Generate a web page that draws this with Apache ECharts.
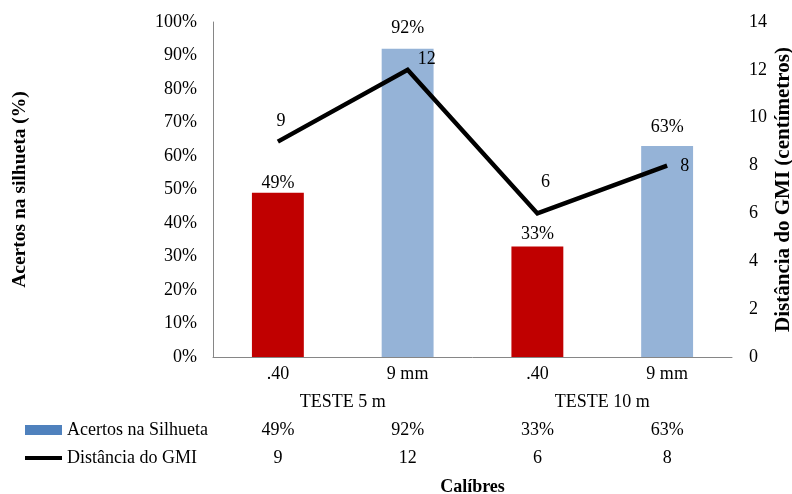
<!DOCTYPE html>
<html>
<head>
<meta charset="utf-8">
<script src="https://cdn.jsdelivr.net/npm/echarts@6/dist/echarts.min.js"></script>
<style>
  html, body { margin: 0; padding: 0; background: #fff; }
  #chart { width: 792px; height: 494px; }
</style>
</head>
<body>
<div id="chart"></div>
<script>
// Calibres per test, grouped by shooting distance
const categories = ['.40', '9 mm', '.40', '9 mm'];
const groups = ['TESTE 5 m', 'TESTE 10 m'];
// Hits on the silhouette (%)
const acertos = [49, 92, 33, 63];
// Distance to the GMI (cm)
const distancia = [9, 12, 6, 8];
const leftTicks = [0, 100, 10];
const rightTicks = [0, 14, 2];

const FONT = '"Liberation Serif", "Times New Roman", serif';
const RED = '#C00000';
const BLUE = '#95B3D7';
const LEGEND_BLUE = '#4F81BD';
const AXIS_GREY = '#868686';

const base = { fontFamily: FONT, fontSize: 18, color: '#000' };
const bold = Object.assign({}, base, { fontWeight: 'bold' });
const hidden = { show: false };

// Label placement for the bar values and the line values
const barLabelDist = [1, 12, 3, 10];
const lineLabel = [
  { position: 'top', distance: 0, offset: [3, -11] },
  { position: 'right', distance: 10, offset: [0, -11] },
  { position: 'top', distance: 0, offset: [8, -22] },
  { position: 'right', distance: 13, offset: [0, 1] }
];

const chart = echarts.init(document.getElementById('chart'), null, { renderer: 'canvas' });

// One hidden-line category axis per table row under the plot
function rowAxis(values, margin) {
  return {
    type: 'category',
    position: 'bottom',
    data: values,
    axisLine: hidden,
    axisTick: hidden,
    axisLabel: Object.assign({}, base, { margin: margin })
  };
}

chart.setOption({
  animation: false,
  backgroundColor: '#fff',
  textStyle: { fontFamily: FONT },
  grid: {
    left: 213, right: 60, top: 22, bottom: 137,
    containLabel: false,
    outerBoundsMode: 'none'
  },
  legend: [
    {
      left: 20,
      top: 416,
      itemWidth: 37,
      itemHeight: 10,
      textStyle: base,
      data: [{ name: 'Acertos na Silhueta', icon: 'rect', itemStyle: { color: LEGEND_BLUE } }]
    },
    {
      left: 20,
      top: 444,
      itemWidth: 37,
      itemHeight: 4,
      textStyle: base,
      data: [{ name: 'Distância do GMI', icon: 'rect', itemStyle: { color: '#000' } }]
    }
  ],
  xAxis: [
    {
      type: 'category',
      data: categories,
      axisLine: { lineStyle: { color: AXIS_GREY, width: 1 } },
      axisTick: hidden,
      axisLabel: Object.assign({}, base, { margin: 8 }),
      name: 'Calíbres',
      nameLocation: 'middle',
      nameGap: 121,
      nameMoveOverlap: false,
      nameTextStyle: bold
    },
    rowAxis(groups, 36),
    rowAxis(acertos.map(v => v + '%'), 64),
    rowAxis(distancia.map(v => String(v)), 92)
  ],
  yAxis: [
    {
      type: 'value',
      min: leftTicks[0], max: leftTicks[1], interval: leftTicks[2],
      axisLine: { show: true, lineStyle: { color: AXIS_GREY, width: 1 } },
      axisTick: hidden,
      splitLine: hidden,
      axisLabel: Object.assign({}, base, { margin: 16, formatter: '{value}%' }),
      name: 'Acertos na silhueta (%)',
      nameLocation: 'middle',
      nameGap: 183,
      nameRotate: 90,
      nameMoveOverlap: false,
      nameTextStyle: Object.assign({}, bold, { fontSize: 19.5 })
    },
    {
      type: 'value',
      position: 'right',
      min: rightTicks[0], max: rightTicks[1], interval: rightTicks[2],
      axisLine: hidden,
      axisTick: hidden,
      splitLine: hidden,
      axisLabel: Object.assign({}, base, { margin: 17 }),
      name: 'Distância do GMI (centímetros)',
      nameLocation: 'middle',
      nameGap: 41,
      nameRotate: 90,
      nameMoveOverlap: false,
      nameTextStyle: Object.assign({}, bold, { fontSize: 21 })
    }
  ],
  series: [
    {
      name: 'Acertos na Silhueta',
      type: 'bar',
      xAxisIndex: 0,
      yAxisIndex: 0,
      barWidth: '40%',
      itemStyle: { color: LEGEND_BLUE },
      data: acertos.map((v, i) => ({
        value: v,
        itemStyle: { color: categories[i] === '.40' ? RED : BLUE },
        label: { distance: barLabelDist[i] }
      })),
      label: Object.assign({}, base, { show: true, position: 'top', formatter: '{c}%' }),
      z: 2
    },
    {
      name: 'Distância do GMI',
      type: 'line',
      xAxisIndex: 0,
      yAxisIndex: 1,
      symbol: 'none',
      lineStyle: { color: '#000', width: 4.5, join: 'miter' },
      itemStyle: { color: '#000' },
      data: distancia,
      z: 3
    },
    {
      // value labels of the distance line
      name: 'Distância do GMI',
      type: 'scatter',
      xAxisIndex: 0,
      yAxisIndex: 1,
      symbolSize: 0,
      itemStyle: { color: '#000', opacity: 1 },
      data: distancia.map((v, i) => ({ value: v, label: lineLabel[i] })),
      label: Object.assign({}, base, { show: true, opacity: 1 }),
      emphasis: { disabled: true },
      silent: true,
      z: 4
    }
  ]
});
</script>
</body>
</html>
